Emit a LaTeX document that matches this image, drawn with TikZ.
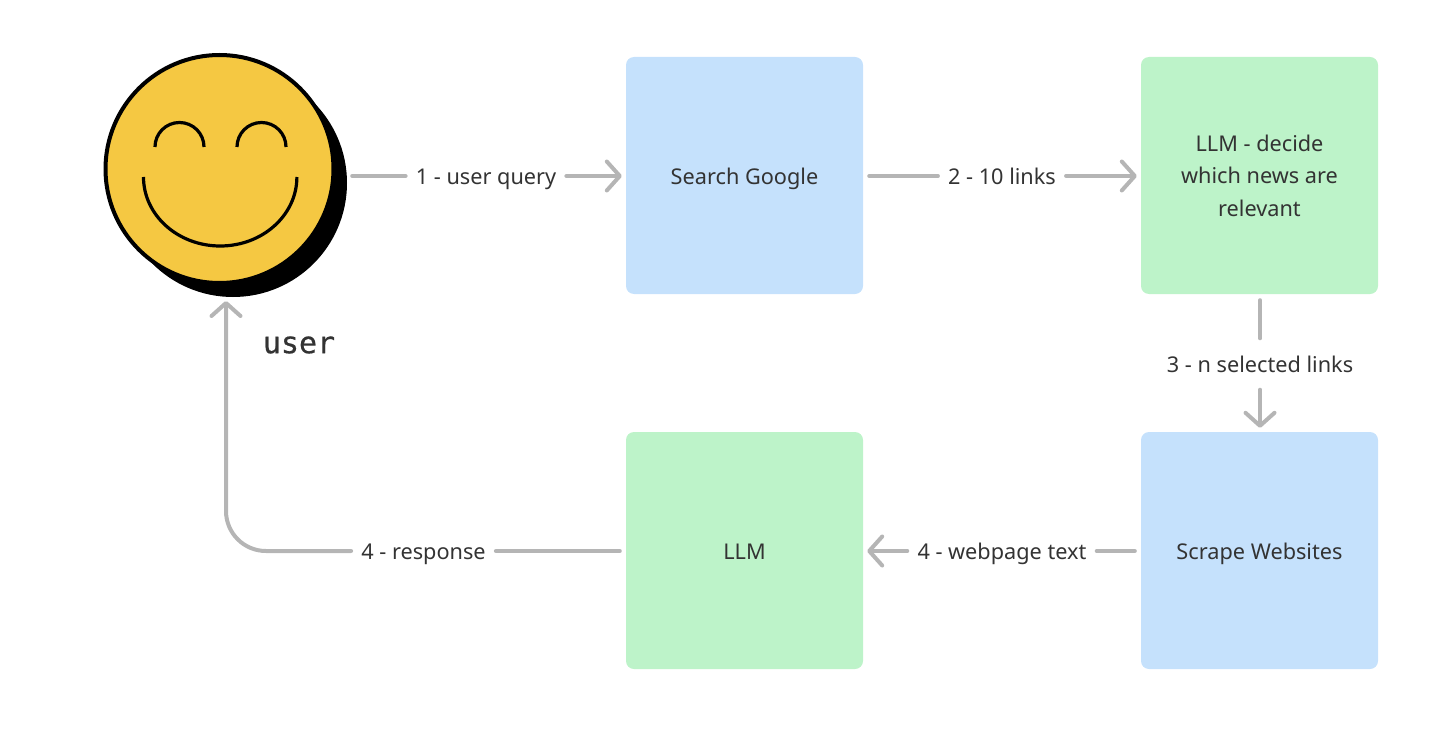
\documentclass[tikz,border=0pt]{standalone}
\usepackage{fontspec}
\setmainfont{Noto Sans}
\newfontfamily\usermono[FakeBold=0.6]{DejaVu Sans Mono}
\usetikzlibrary{arrows.meta}
\definecolor{faceyellow}{HTML}{F5C842}
\definecolor{boxblue}{HTML}{C5E1FC}
\definecolor{boxgreen}{HTML}{BDF3C9}
\definecolor{linkgray}{HTML}{B5B5B5}
\definecolor{textgray}{HTML}{333333}
\tikzset{
  stage/.style={rounded corners=8pt,minimum size=237pt,inner sep=0pt,align=center,
    text=textgray,font=\fontsize{21.7}{32.5}\selectfont},
  stageblue/.style={stage,fill=boxblue},
  stagegreen/.style={stage,fill=boxgreen},
  oneline/.style={text height=18pt,text depth=0pt},
  linklabel/.style={inner xsep=10pt,inner ysep=17pt,text height=17pt,text depth=0pt,
    text=textgray,font=\fontsize{21.7}{26}\selectfont},
  link/.style={draw=linkgray,line width=4pt,line cap=round},
  linkhead/.style={link,>={Straight Barb[length=13pt,width=29pt,round]},->},
  gapstart/.style={shorten <=6pt},
  gapend/.style={shorten >=4pt}
}
\begin{document}
\begin{tikzpicture}[x=1pt,y=-1pt]
  \useasboundingbox (0,0) rectangle (1434,730);

  % user face
  \node[circle,fill=black,minimum size=228pt,inner sep=0pt] (usershadow) at (233,183) {};
  \node[circle,draw=black,line width=4pt,fill=faceyellow,minimum size=228pt,inner sep=0pt] (userface) at (219.5,169) {};
  \draw[line width=3.2pt] (155,147) arc (180:360:24.5);
  \draw[line width=3.2pt] (237,147) arc (180:360:24.5);
  \draw[line width=3.2pt] (143.5,177) arc (180:0:76.7 and 69);
  \node[text=textgray,font=\usermono\fontsize{30}{30}\selectfont] (username) at (299,345) {user};

  % stages
  \node[stageblue,oneline] (search) at (744.5,175.5) {Search Google};
  \node[stagegreen] (decide) at (1259.5,175.5) {LLM - decide\\which news are\\relevant};
  \node[stageblue,oneline] (scrape) at (1259.5,550.5) {Scrape Websites};
  \node[stagegreen,oneline] (answer) at (744.5,550.5) {LLM};

  % labels on the links
  \node[linklabel] (lblquery) at (486,176) {1 - user query};
  \node[linklabel] (lbllinks) at (1002,176) {2 - 10 links};
  \node[linklabel] (lblselected) at (1260,364) {3 - n selected links};
  \node[linklabel] (lbltext) at (1002,551) {4 - webpage text};
  \node[linklabel] (lblresponse) at (423.5,551) {4 - response};
  \coordinate (userin) at (226,301);

  % links
  \draw[link,shorten <=5pt] (usershadow.east |- lblquery.west) -- (lblquery.west);
  \draw[linkhead,gapend] (lblquery.east) -- (search.west |- lblquery.east);
  \draw[link,gapstart] (search.east |- lbllinks.west) -- (lbllinks.west);
  \draw[linkhead,gapend] (lbllinks.east) -- (decide.west |- lbllinks.east);
  \draw[link,gapstart] (decide.south -| lblselected.north) -- (lblselected.north);
  \draw[linkhead,gapend] (lblselected.south) -- (scrape.north -| lblselected.south);
  \draw[link,gapstart] (scrape.west |- lbltext.east) -- (lbltext.east);
  \draw[linkhead,gapend] (lbltext.west) -- (answer.east |- lbltext.west);
  \draw[link,gapstart] (answer.west |- lblresponse.east) -- (lblresponse.east);
  \draw[linkhead,rounded corners=40pt] (lblresponse.west) -| (userin);
\end{tikzpicture}
\end{document}
